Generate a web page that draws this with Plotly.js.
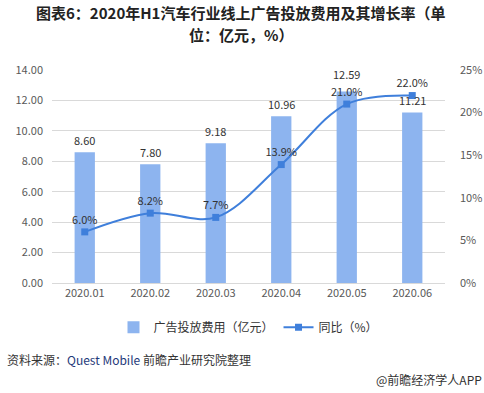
<!DOCTYPE html>
<html><head><meta charset="utf-8">
<script src="https://cdn.plot.ly/plotly-3.0.1.min.js"></script>
<style>body{margin:0;padding:0;background:#fff}#c{width:484px;height:393px}</style>
</head><body><div id="c"></div>
<script>
const categories = ['2020.01','2020.02','2020.03','2020.04','2020.05','2020.06'];
const adSpend = [8.60, 7.80, 9.18, 10.96, 12.59, 11.21];
const yoyGrowth = [6.0, 8.2, 7.7, 13.9, 21.0, 22.0];
const leftTicks = [0,2,4,6,8,10,12,14];
const rightTicks = [0,5,10,15,20,25];
const barLabelShift = [12, 12, 12, 12, 17, 12];

const font = "'Noto Sans CJK SC', 'Noto Sans', sans-serif";
const traces = [
  {type:'bar', x:categories, y:adSpend, name:'广告投放费用（亿元）',
   marker:{color:'#8db4ef'}, hoverinfo:'none'},
  {type:'scatter', mode:'lines+markers+text', x:categories, y:yoyGrowth, yaxis:'y2', name:'同比（%）',
   line:{color:'#3f7fdb', width:2, shape:'spline', smoothing:1}, marker:{symbol:'square', size:7, color:'#3f7fdb'},
   text:yoyGrowth.map(v=>v.toFixed(1)+'%'), textposition:'top center',
   textfont:{size:11,color:'#333', family:font}, cliponaxis:false, hoverinfo:'none'}
];
const barLabels = categories.map((c,i)=>({
  text:adSpend[i].toFixed(2), x:i, y:adSpend[i], xref:'x', yref:'y', yanchor:'middle', yshift:barLabelShift[i],
  showarrow:false, font:{size:11,color:'#333',family:font}
}));
const layout = {
  width:484, height:393, margin:{l:52, r:39, t:70, b:110},
  paper_bgcolor:'#fff', plot_bgcolor:'#fff', showlegend:true,
  font:{family:font, size:11, color:'#595959'},
  bargap:0.69,
  xaxis:{type:'category', categoryarray:categories, showgrid:false, showline:true, linecolor:'#d9d9d9', ticks:'', tickfont:{size:11,color:'#595959'}},
  yaxis:{range:[0,14], tickvals:leftTicks, ticktext:leftTicks.map(v=>v.toFixed(2)), showgrid:true, gridcolor:'#d9d9d9',
    zeroline:false, showline:false, tickfont:{size:11,color:'#595959'}, ticklabelstandoff:8},
  yaxis2:{range:[0,25], overlaying:'y', side:'right', tickvals:rightTicks, ticktext:rightTicks.map(v=>v+'%'), showgrid:false,
    zeroline:false, tickfont:{size:11,color:'#595959'}, ticklabelstandoff:14},
  legend:{orientation:'h', x:0.5, xanchor:'center', y:-0.14, yanchor:'top', font:{size:12,color:'#333'}, itemwidth:30, traceorder:'normal'},
  annotations:[
    {text:'<b>图表6：2020年H1汽车行业线上广告投放费用及其增长率（单</b>', xref:'paper', yref:'paper', x:0.48, xanchor:'center', y:1.268, yanchor:'middle', showarrow:false, font:{size:15,color:'#222', family:font}, borderpad:0},
    {text:'<b>位：亿元，%）</b>', xref:'paper', yref:'paper', x:0.48, xanchor:'center', y:1.165, yanchor:'middle', showarrow:false, font:{size:15,color:'#222', family:font}, borderpad:0},
    {text:'资料来源：<span style="color:#1f3a7a">Quest Mobile</span> 前瞻产业研究院整理', xref:'paper', yref:'paper', x:-0.12, xanchor:'left', y:-0.357, yanchor:'middle', showarrow:false, font:{size:12,color:'#333'}},
    {text:'@前瞻经济学人APP', xref:'paper', yref:'paper', x:1.1, xanchor:'right', y:-0.455, yanchor:'middle', showarrow:false, font:{size:12,color:'#333'}}
  ].concat(barLabels)
};
Plotly.newPlot('c', traces, layout, {displayModeBar:false, staticPlot:true});
</script></body></html>
